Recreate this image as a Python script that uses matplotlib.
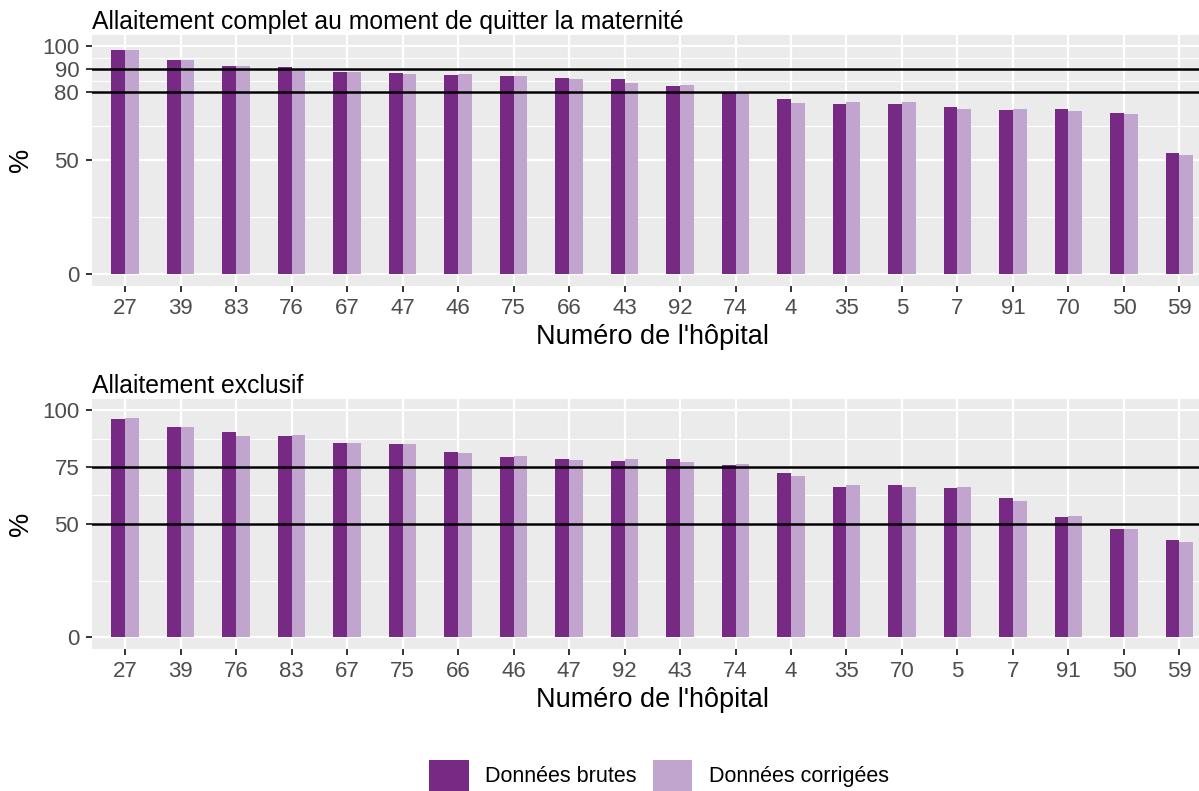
import matplotlib
matplotlib.use("Agg")
import matplotlib.pyplot as plt
from matplotlib.patches import Patch
import numpy as np

plt.rcParams['font.family'] = ['Liberation Sans', 'DejaVu Sans']

# panneau 1 : allaitement complet
hop_complet = ["27", "39", "83", "76", "67", "47", "46", "75", "66", "43",
               "92", "74", "4", "35", "5", "7", "91", "70", "50", "59"]
brutes_complet = [98.5, 94.0, 91.2, 91.1, 88.9, 88.3, 87.5, 87.1, 86.1, 85.6,
                  82.4, 80.0, 76.7, 74.7, 74.9, 73.3, 72.0, 72.4, 70.7, 53.4]
corr_complet = [98.5, 94.1, 91.5, 89.9, 88.6, 87.8, 87.8, 87.0, 85.6, 84.0,
                83.0, 79.6, 75.2, 75.8, 75.4, 72.4, 72.4, 71.6, 70.4, 52.5]

# panneau 2 : allaitement exclusif
hop_excl = ["27", "39", "76", "83", "67", "75", "66", "46", "47", "92",
            "43", "74", "4", "35", "70", "5", "7", "91", "50", "59"]
brutes_excl = [96.3, 92.5, 90.3, 88.7, 85.5, 85.3, 81.8, 79.6, 78.7, 77.7,
               78.7, 75.8, 72.4, 66.3, 66.9, 66.0, 61.3, 52.9, 47.7, 42.8]
corr_excl = [96.5, 92.8, 88.9, 89.1, 85.5, 85.2, 81.4, 80.1, 78.2, 78.4,
             77.1, 76.2, 71.1, 67.2, 66.1, 66.3, 60.1, 53.5, 47.8, 41.9]

titres = ["Allaitement complet au moment de quitter la maternité", "Allaitement exclusif"]
yticks_list = [[0, 50, 80, 90, 100], [0, 50, 75, 100]]
yminor_list = [[25, 65, 85, 95], [25, 62.5, 87.5]]
seuils_list = [[80, 90], [50, 75]]

col_brut = "#762A83"
col_corr = "#C2A5CF"

fig = plt.figure(figsize=(11.99, 7.91), dpi=100)
positions = [[0.0765, 0.6388, 0.935, 0.317], [0.0765, 0.1799, 0.935, 0.3157]]

panneaux = [(hop_complet, brutes_complet, corr_complet),
            (hop_excl, brutes_excl, corr_excl)]

for i, (hops, brut, corr) in enumerate(panneaux):
    ax = fig.add_axes(positions[i])
    ax.set_facecolor("#EBEBEB")
    x = np.arange(len(hops))
    w = 0.245
    ax.bar(x - w / 2, brut, width=w, color=col_brut, zorder=3)
    ax.bar(x + w / 2, corr, width=w, color=col_corr, zorder=3)
    for s in seuils_list[i]:
        ax.axhline(s, color="black", lw=1.8, zorder=4)

    ax.set_xlim(-0.6, len(hops) - 0.4)
    ax.set_ylim(-5, 105)
    ax.set_xticks(x)
    ax.set_xticklabels(hops)
    ax.set_yticks(yticks_list[i])
    ax.set_yticks(yminor_list[i], minor=True)
    ax.grid(True, which="major", color="white", lw=1.6, zorder=1)
    ax.grid(True, which="minor", axis="y", color="white", lw=0.8, zorder=1)
    ax.tick_params(which="major", length=4.5, width=1.4, color="#333333",
                   labelsize=16, labelcolor="#4D4D4D")
    ax.tick_params(axis="x", pad=4.5)
    ax.tick_params(axis="y", pad=4.5)
    ax.tick_params(which="minor", length=0)
    for sp in ax.spines.values():
        sp.set_visible(False)
    ax.set_xlabel("Numéro de l'hôpital", fontsize=19.5, labelpad=3.5)
    ax.set_ylabel("%", fontsize=19.5, labelpad=6)
    ax.set_title(titres[i], loc="left", fontsize=17.8, pad=4)

handles = [Patch(facecolor=col_brut, label="Données brutes"),
           Patch(facecolor=col_corr, label="Données corrigées")]
fig.legend(handles=handles, loc="center", bbox_to_anchor=(0.5495, 0.02),
           ncol=2, frameon=False, fontsize=15.5, handlelength=1.85,
           handleheight=1.85, handletextpad=0.75, columnspacing=0.75,
           borderpad=0)

fig.savefig("out.png", dpi=100)
